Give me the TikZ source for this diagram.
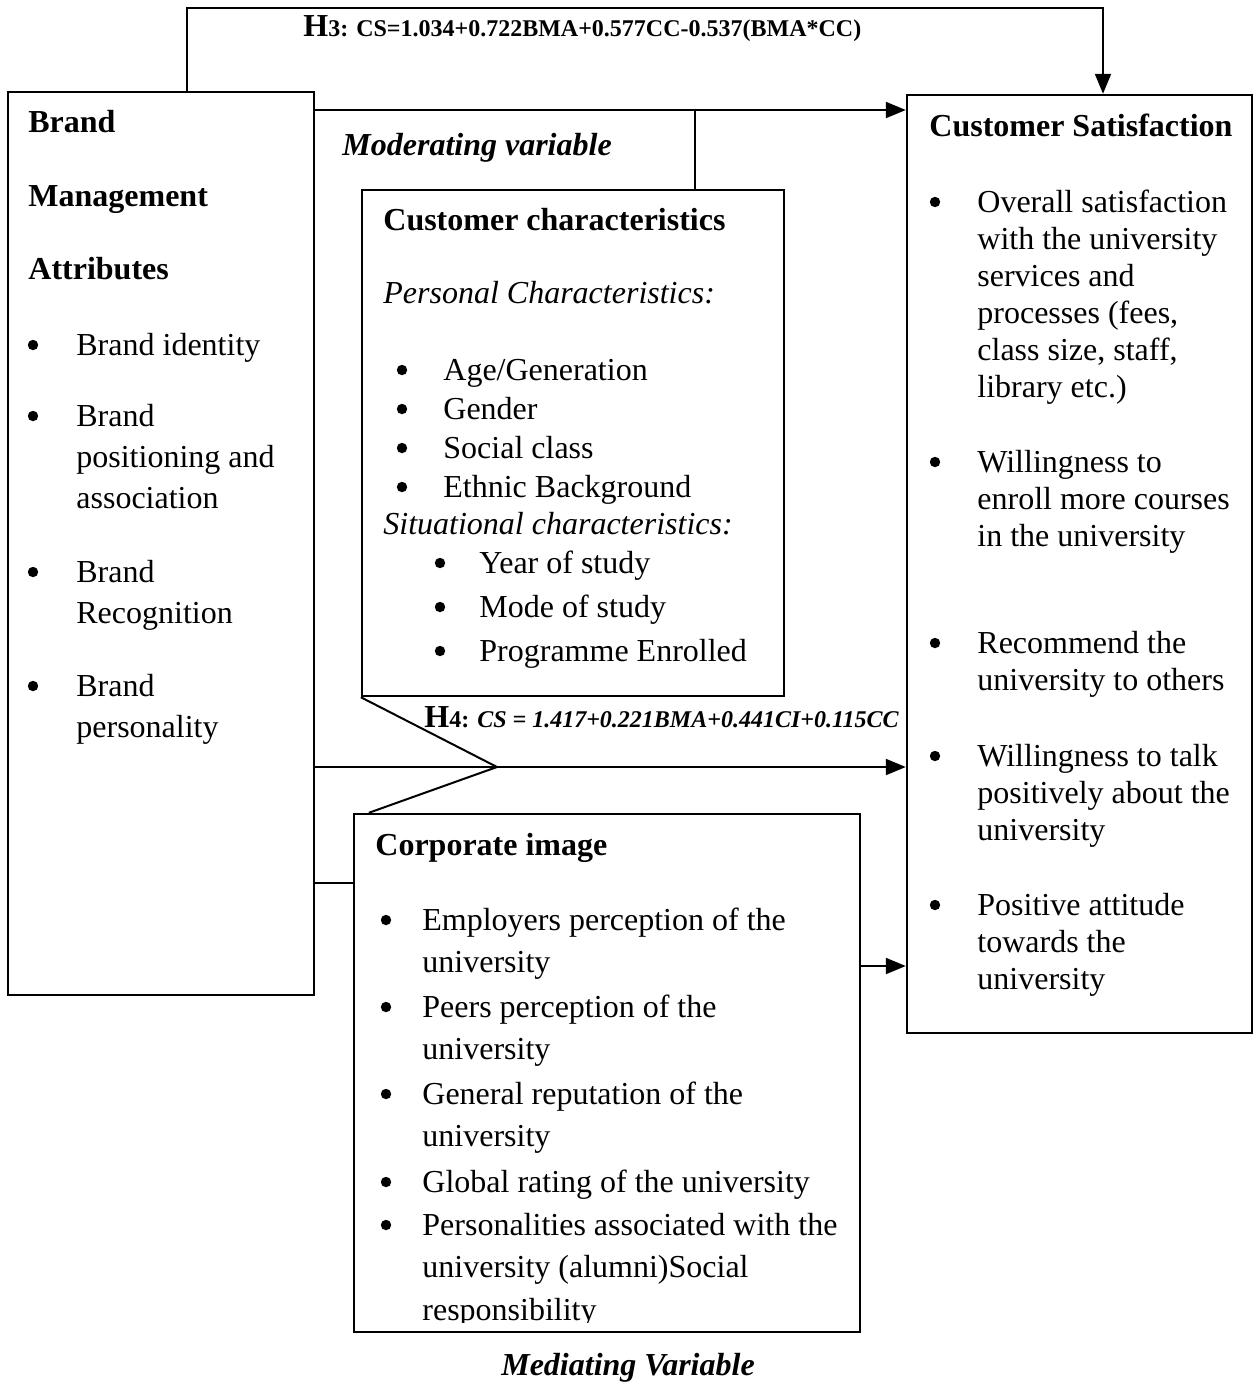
\documentclass[tikz,border=0pt]{standalone}
\usepackage{fontspec}
\setmainfont{Liberation Serif}
\usetikzlibrary{arrows.meta,fit}

% several lines set flush left, baseline on the first line
\newcommand\lines[1]{\begin{tabular}[t]{@{}l@{}}#1\end{tabular}}

\tikzset{
  box/.style={draw, line width=1.2pt, inner sep=0pt},
  link/.style={line width=1pt},
  arrow/.style={link, -{Triangle[length=10pt,width=8pt]}},
  txt/.style={anchor=base west, inner sep=0pt, font=\fontsize{16}{#1}\selectfont},
  txt/.default={18.5},
  hd/.style={anchor=base west, inner sep=0pt, font=\fontsize{16}{18.5}\selectfont\bfseries},
  emph/.style={anchor=base west, inner sep=0pt, font=\fontsize{16}{18.5}\selectfont\bfseries\itshape},
  dot/.style={fill=black},
}
% list marker in front of the first line of a text node
\newcommand\listdot[2]{\fill[dot] ([xshift=-#2, yshift=5pt]#1.base west) circle (2.6pt);}

\begin{document}
\begin{tikzpicture}[x=0.5pt,y=-0.5pt]
\useasboundingbox (0,0) rectangle (1253,1388);

% ---------- boxes ----------
\node[box, fit={(8,92) (314,995)}] (bma) {};
\node[box, fit={(907,95) (1252,1033)}] (cs) {};
\node[box, fit={(362,190) (784,696)}] (cc) {};
\node[box, fit={(354,814) (860,1332)}] (ci) {};

% ---------- brand management attributes ----------
\node[hd] (bmaA) at (28,132) {Brand};
\node[hd] (bmaB) at (28,206) {Management};
\node[hd] (bmaC) at (28,279) {Attributes};
\node[txt=20.5] (bma1) at (76,355) {Brand identity};
\node[txt=20.5] (bma2) at (76,426) {\lines{Brand\\positioning and\\association}};
\node[txt=20.5] (bma3) at (76,582) {\lines{Brand\\Recognition}};
\node[txt=20.5] (bma4) at (76,696) {\lines{Brand\\personality}};
\foreach \n in {bma1,bma2,bma3,bma4} {\listdot{\n}{21.5pt}}

% ---------- customer satisfaction ----------
\node[hd] (csT) at (929,136) {Customer Satisfaction};
\node[txt] (cs1) at (977,212) {\lines{Overall satisfaction\\with the university\\services and\\processes (fees,\\class size, staff,\\library etc.)}};
\node[txt] (cs2) at (977,472) {\lines{Willingness to\\enroll more courses\\in the university}};
\node[txt] (cs3) at (977,653) {\lines{Recommend the\\university to others}};
\node[txt] (cs4) at (977,766) {\lines{Willingness to talk\\positively about the\\university}};
\node[txt] (cs5) at (977,915) {\lines{Positive attitude\\towards the\\university}};
\foreach \n in {cs1,cs2,cs3,cs4,cs5} {\listdot{\n}{21pt}}

% ---------- customer characteristics ----------
\node[hd] (ccT) at (383,230) {Customer characteristics};
\node[txt, font=\fontsize{16}{18.5}\selectfont\itshape] (ccP) at (383,303) {Personal Characteristics:};
\node[txt] (cc1) at (443,380) {Age/Generation};
\node[txt] (cc2) at (443,419) {Gender};
\node[txt] (cc3) at (443,458) {Social class};
\node[txt] (cc4) at (443,497) {Ethnic Background};
\foreach \n in {cc1,cc2,cc3,cc4} {\listdot{\n}{20.5pt}}
\node[txt, font=\fontsize{16}{18.5}\selectfont\itshape] (ccS) at (383,534) {Situational characteristics:};
\node[txt] (cc5) at (479,573) {Year of study};
\node[txt] (cc6) at (479,617) {Mode of study};
\node[txt] (cc7) at (479,661) {Programme Enrolled};
\foreach \n in {cc5,cc6,cc7} {\listdot{\n}{19.5pt}}

% ---------- corporate image ----------
\node[hd] (ciT) at (375,855) {Corporate image};
\node[txt=21] (ci1) at (422,930) {\lines{Employers perception of the\\university}};
\node[txt=21] (ci2) at (422,1017) {\lines{Peers perception of the\\university}};
\node[txt=21] (ci3) at (422,1104) {\lines{General reputation of the\\university}};
\node[txt=21] (ci4) at (422,1192) {Global rating of the university};
\begin{scope}
  \clip (354,1200) rectangle (860,1322);
  \node[txt=21.3] (ci5) at (422,1235) {\lines{Personalities associated with the\\university (alumni)Social\\responsibility}};
\end{scope}
\foreach \n in {ci1,ci2,ci3,ci4,ci5} {\listdot{\n}{18pt}}

% ---------- labels ----------
\node[anchor=base west, inner sep=0pt] (h3) at (303,36)
  {\bfseries\fontsize{16}{16}\selectfont H\fontsize{12}{12}\selectfont 3: CS=1.034+0.722BMA+0.577CC-0.537(BMA*CC)};
\node[emph] (mod) at (342,155) {Moderating variable};
\node[anchor=base west, inner sep=0pt] (h4) at (424,727)
  {\bfseries\fontsize{16}{16}\selectfont H\fontsize{12}{12}\selectfont 4: \itshape CS = 1.417+0.221BMA+0.441CI+0.115CC};
\node[emph, anchor=base] (med) at (628,1375) {Mediating Variable};

% ---------- connectors ----------
\coordinate (h3l) at (187,8);
\coordinate (h3r) at (1103,8);
\draw[arrow] (h3l |- bma.north) -- (h3l) -- (h3r) -- (h3r |- cs.north);

\coordinate (ytop) at (0,110);
\draw[arrow] (bma.east |- ytop) -- (cs.west |- ytop);
\coordinate (mx) at (695,110);
\draw[link] (cc.north -| mx) -- (mx);

\coordinate (ylow) at (0,767);
\coordinate (vtx) at (497,767);
\draw[arrow] (bma.east |- ylow) -- (cs.west |- ylow);
\draw[link] (cc.south west) -- (vtx) -- ([xshift=8pt]ci.north west);

\coordinate (ymid) at (0,883);
\draw[link, line width=0.8pt] (bma.east |- ymid) -- (ci.west |- ymid);

\coordinate (yci) at (0,966);
\draw[arrow] (ci.east |- yci) -- (cs.west |- yci);
\end{tikzpicture}
\end{document}
